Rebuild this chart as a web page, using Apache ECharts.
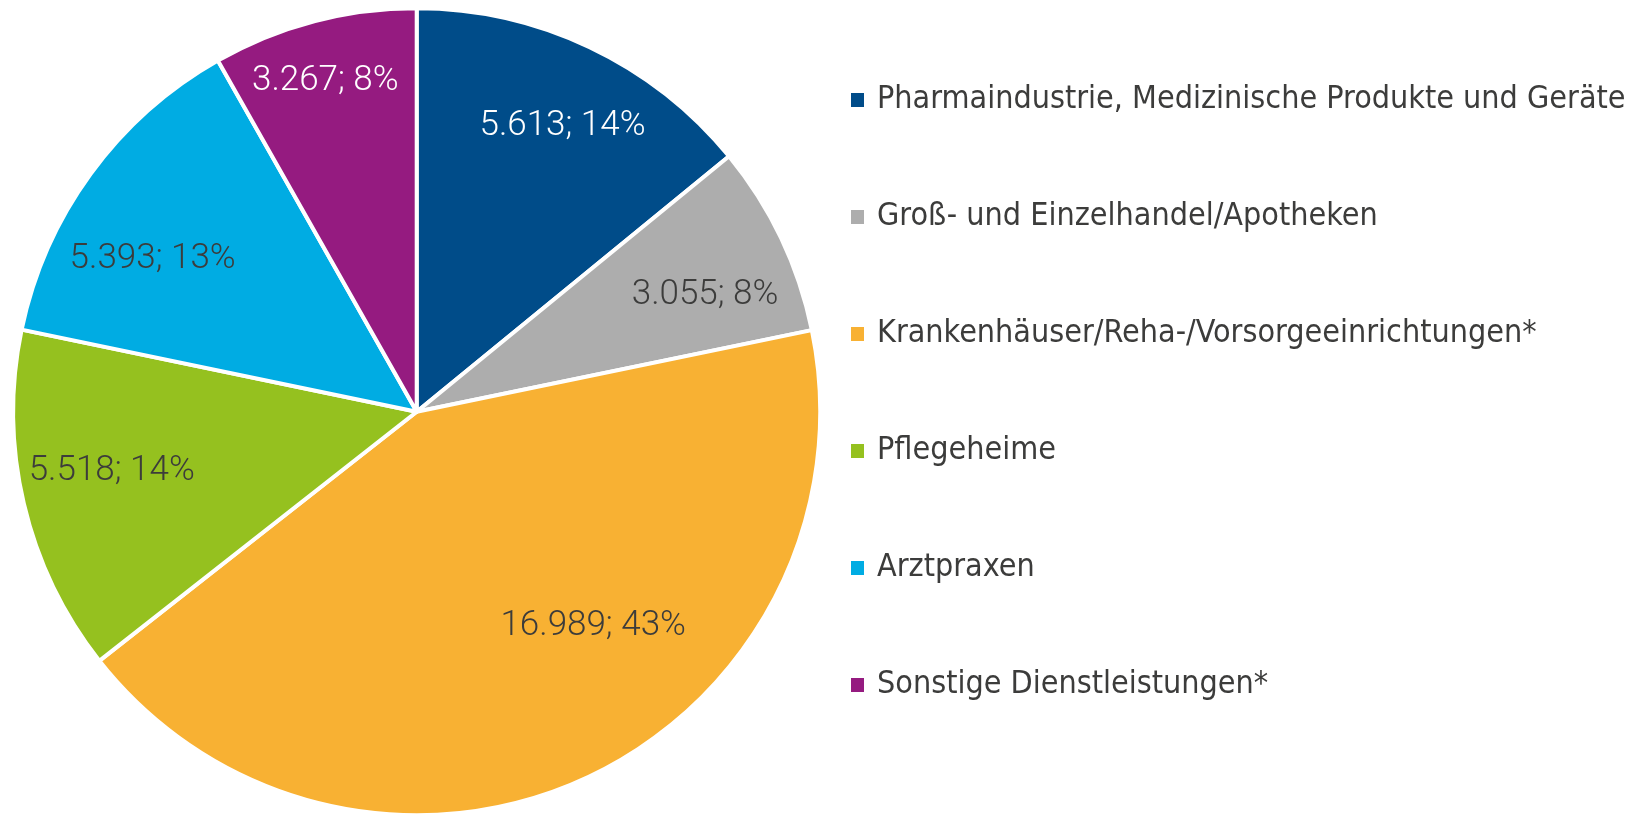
<!DOCTYPE html>
<html>
<head>
<meta charset="utf-8">
<script src="https://cdn.jsdelivr.net/npm/echarts@6/dist/echarts.min.js"></script>
<style>
  html, body { margin: 0; padding: 0; background: #fff; }
  #chart { width: 1641px; height: 814px; }
</style>
</head>
<body>
<div id="chart"></div>
<script>
// Kategorien und Werte (Tsd.)
const categories = [
  'Pharmaindustrie, Medizinische Produkte und Geräte',
  'Groß- und Einzelhandel/Apotheken',
  'Krankenhäuser/Reha-/Vorsorgeeinrichtungen*',
  'Pflegeheime',
  'Arztpraxen',
  'Sonstige Dienstleistungen*'
]
const values = [5613, 3055, 16989, 5518, 5393, 3267]

// Farben je Segment
const colors = ['#004C89', '#ADADAD', '#F8B133', '#95C11F', '#00ACE3', '#951B80']
const labelColors = ['#ffffff', '#3c3c3b', '#3c3c3b', '#3c3c3b', '#3c3c3b', '#ffffff']
// kleine Korrekturen der Beschriftungslage (px)
const labelNudge = [[9, 3], [0, 21], [42, -75], [6, -13], [-6, 36], [-10, -22]]

const cx = 416.7
const cy = 411.7
const radius = 403.5

const chart = echarts.init(document.getElementById('chart'), null, { renderer: 'canvas' })

const fmt = v => (v / 1000).toFixed(3)

chart.setOption({
  animation: false,
  color: colors,
  legend: {
    orient: 'vertical',
    left: 844,
    top: 75,
    itemWidth: 15,
    itemHeight: 16,
    itemGap: 77,
    icon: 'rect',
    data: categories,
    textStyle: {
      fontFamily: 'DejaVu Sans Condensed',
      fontSize: 32,
      lineHeight: 40,
      color: '#3c3c3b',
      padding: [0, 0, 0, 7]
    }
  },
  series: [
    {
      type: 'pie',
      center: [cx, cy],
      radius: [0, radius],
      startAngle: 90,
      clockwise: true,
      percentPrecision: 0,
      silent: true,
      itemStyle: { borderColor: '#ffffff', borderWidth: 4 },
      label: {
        show: true,
        position: 'inside',
        fontFamily: 'Roboto',
        fontWeight: 300,
        fontSize: 35,
        formatter: p => fmt(p.value) + '; ' + p.percent + '%'
      },
      labelLine: { show: false },
      labelLayout: p => {
        // Beschriftung von r/2 auf ca. 0,78 r schieben
        const lx = p.labelRect.x + p.labelRect.width / 2
        const ly = p.labelRect.y + p.labelRect.height / 2
        const k = 0.56
        const n = labelNudge[p.dataIndex]
        return { dx: (lx - cx) * k + n[0], dy: (ly - cy) * k + n[1] }
      },
      data: categories.map((name, i) => ({
        name,
        value: values[i],
        label: { color: labelColors[i] }
      }))
    }
  ]
})
</script>
</body>
</html>
